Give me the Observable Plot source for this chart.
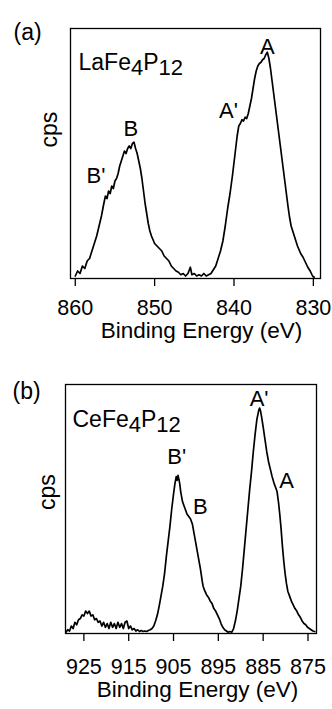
<!DOCTYPE html>
<html>
<head>
<meta charset="utf-8">
<script src="https://cdn.jsdelivr.net/npm/d3@7"></script>
<script src="https://cdn.jsdelivr.net/npm/@observablehq/plot@0.6"></script>
<style>
  html, body { margin: 0; padding: 0; background: #fff; }
  #chart svg { display: block; }
</style>
</head>
<body>
<div id="chart"></div>
<script>
// ---------- Panel (a): LaFe4P12, La 3d ----------
const panelLabelA = "(a)";
const compoundA = "LaFe4P12";
const energyA = [860.0,859.7,859.4,859.1,858.8,858.5,858.2,857.9,857.6,857.3,857.0,856.7,856.4,856.2,856.0,855.8,855.6,855.4,855.2,855.0,854.8,854.6,854.4,854.2,854.0,853.8,853.6,853.4,853.2,853.0,852.8,852.6,852.4,852.2,852.0,851.8,851.6,851.4,851.2,851.0,850.8,850.6,850.4,850.2,850.0,849.7,849.4,849.1,848.8,848.5,848.2,847.9,847.6,847.3,847.0,846.7,846.4,846.1,845.8,845.5,845.3,845.0,844.7,844.4,844.1,843.8,843.5,843.2,842.9,842.6,842.3,842.0,841.7,841.4,841.1,840.8,840.5,840.2,839.9,839.6,839.4,839.2,839.0,838.8,838.6,838.4,838.2,838.0,837.8,837.6,837.4,837.2,837.0,836.8,836.6,836.4,836.2,836.0,835.8,835.6,835.4,835.2,835.0,834.8,834.6,834.4,834.2,834.0,833.8,833.6,833.4,833.2,833.0,832.8,832.6,832.4,832.2,832.0,831.8,831.6,831.3,831.0,830.7,830.4,830.1,829.9];
const cpsA = [0.01,0.03,0.02,0.05,0.04,0.07,0.08,0.11,0.14,0.17,0.21,0.25,0.30,0.33,0.32,0.35,0.34,0.37,0.36,0.39,0.40,0.42,0.45,0.47,0.49,0.51,0.50,0.52,0.53,0.52,0.54,0.545,0.52,0.50,0.47,0.44,0.40,0.35,0.30,0.26,0.22,0.19,0.17,0.155,0.14,0.13,0.12,0.11,0.09,0.08,0.07,0.05,0.04,0.03,0.025,0.015,0.02,0.01,0.02,0.045,0.015,0.02,0.01,0.015,0.01,0.02,0.01,0.015,0.02,0.035,0.05,0.08,0.11,0.15,0.21,0.28,0.34,0.41,0.49,0.57,0.61,0.62,0.635,0.63,0.645,0.64,0.66,0.69,0.72,0.76,0.80,0.83,0.85,0.86,0.865,0.875,0.88,0.895,0.905,0.88,0.84,0.79,0.74,0.69,0.64,0.59,0.54,0.49,0.44,0.39,0.34,0.29,0.245,0.21,0.19,0.17,0.15,0.13,0.115,0.10,0.085,0.065,0.045,0.03,0.01,0.005];
const peakNamesA = ["A", "A'", "B", "B'"];
const peakEnergyA = [835.8, 840.7, 853.0, 857.4];
const peakCpsA = [0.926, 0.672, 0.60, 0.412];
const ticksA = [860, 850, 840, 830];
const domainA = [860.6, 829.1];

// ---------- Panel (b): CeFe4P12, Ce 3d ----------
const panelLabelB = "(b)";
const compoundB = "CeFe4P12";
const energyB = [929.0,928.6,928.2,927.8,927.4,927.0,926.6,926.2,925.8,925.4,925.0,924.6,924.2,923.8,923.4,923.0,922.6,922.2,921.8,921.4,921.0,920.6,920.2,919.8,919.4,919.0,918.6,918.2,917.8,917.4,917.0,916.6,916.2,915.8,915.4,915.0,914.6,914.2,913.8,913.4,913.0,912.6,912.2,911.8,911.4,911.0,910.6,910.2,909.8,909.4,909.0,908.6,908.2,907.8,907.4,907.0,906.6,906.2,905.8,905.4,905.0,904.7,904.4,904.2,904.0,903.8,903.6,903.4,903.2,903.0,902.8,902.6,902.4,902.2,902.0,901.8,901.6,901.4,901.2,901.0,900.8,900.6,900.4,900.2,900.0,899.8,899.6,899.4,899.2,899.0,898.8,898.6,898.4,898.2,898.0,897.6,897.2,896.8,896.4,896.0,895.6,895.2,894.8,894.4,894.0,893.6,893.2,892.8,892.4,892.0,891.6,891.2,890.8,890.4,890.0,889.6,889.2,888.8,888.4,888.0,887.6,887.2,886.8,886.4,886.0,885.8,885.6,885.4,885.0,884.6,884.2,883.8,883.4,883.0,882.6,882.2,881.9,881.6,881.3,881.0,880.7,880.4,880.1,879.8,879.5,879.1,878.7,878.3,877.9,877.5,877.1,876.7,876.3,875.9,875.5,875.1,874.7,874.3,873.9,873.5];
const cpsB = [0.005,0.015,0.01,0.03,0.02,0.045,0.035,0.055,0.06,0.075,0.07,0.09,0.08,0.09,0.07,0.075,0.055,0.06,0.045,0.05,0.03,0.045,0.025,0.04,0.02,0.045,0.025,0.04,0.02,0.045,0.025,0.04,0.02,0.045,0.05,0.02,0.03,0.015,0.02,0.01,0.015,0.008,0.012,0.008,0.01,0.008,0.012,0.015,0.02,0.03,0.05,0.075,0.11,0.15,0.19,0.24,0.31,0.37,0.43,0.50,0.56,0.60,0.63,0.615,0.635,0.62,0.60,0.57,0.55,0.53,0.52,0.51,0.50,0.49,0.48,0.475,0.47,0.465,0.46,0.45,0.44,0.42,0.40,0.38,0.36,0.34,0.32,0.30,0.28,0.26,0.235,0.21,0.19,0.18,0.17,0.155,0.145,0.13,0.12,0.10,0.09,0.075,0.06,0.04,0.025,0.015,0.01,0.005,0.008,0.005,0.02,0.05,0.09,0.14,0.19,0.26,0.34,0.42,0.50,0.58,0.65,0.73,0.80,0.86,0.895,0.905,0.895,0.875,0.83,0.78,0.73,0.69,0.66,0.63,0.605,0.585,0.57,0.53,0.48,0.42,0.35,0.29,0.24,0.20,0.17,0.15,0.13,0.115,0.10,0.09,0.075,0.065,0.05,0.04,0.035,0.025,0.02,0.015,0.01,0.008];
const peakNamesB = ["A'", "A", "B'", "B"];
const peakEnergyB = [885.9, 879.8, 904.3, 899.0];
const peakCpsB = [0.943, 0.614, 0.708, 0.507];
const ticksB = [925, 915, 905, 895, 885, 875];
const domainB = [929.1, 873.1];

const xLabel = "Binding Energy (eV)";
const yLabel = "cps";
const FONT = "'Liberation Sans', Arial, Helvetica, sans-serif";

function panel(cfg) {
  const data = cfg.energy.map((e, i) => ({e, c: cfg.cps[i]}));
  const peaks = cfg.peakNames.map((n, i) => ({n, e: cfg.peakE[i], c: cfg.peakC[i]}));
  const svg = Plot.plot({
    width: 332,
    height: cfg.height,
    marginTop: cfg.mt,
    marginBottom: cfg.mb,
    marginLeft: cfg.ml,
    marginRight: cfg.mr,
    style: {fontFamily: FONT, fontSize: "22px", color: "#000", background: "#fff", overflow: "visible"},
    x: {domain: cfg.domain},
    y: {domain: [0, 1], axis: null},
    marks: [
      Plot.frame({stroke: "#000", strokeWidth: 1.3}),
      Plot.axisX(cfg.ticks, {tickSize: 8, tickPadding: cfg.tp, fontSize: 21.5, label: null, stroke: "#000", strokeWidth: 1.3, tickFormat: d => String(d)}),
      Plot.line(data, {x: "e", y: "c", stroke: "#000", strokeWidth: 1.7}),
      Plot.text(peaks, {x: "e", y: "c", text: "n", fontSize: 22, fill: "#000"}),
      Plot.text([cfg.compound], {frameAnchor: "top-left", textAnchor: "start", dx: cfg.cdx, dy: cfg.cdy, fontSize: 23, fill: "#000"}),
      Plot.text([cfg.panelLabel], {frameAnchor: "top-left", textAnchor: "start", dx: cfg.pdx, dy: cfg.pdy, fontSize: 23, fill: "#000"}),
      Plot.text([yLabel], {frameAnchor: "left", rotate: -90, dx: cfg.ydx, dy: cfg.ydy, fontSize: 23, fill: "#000"}),
      Plot.text([xLabel], {frameAnchor: "bottom", dx: cfg.xdx, dy: cfg.xdy, fontSize: 22.5, fill: "#000"})
    ]
  });
  // render digits of the compound formula as subscripts
  d3.select(svg).selectAll("text").filter(function() { return this.textContent === cfg.compound; })
    .each(function() {
      const t = d3.select(this);
      t.text(null);
      const parts = cfg.compound.match(/\d+|\D+/g);
      let down = false;
      parts.forEach(p => {
        const isSub = /\d/.test(p);
        const ts = t.append("tspan").text(p);
        if (isSub && !down) { ts.attr("dy", 5).attr("font-size", 22); down = true; }
        else if (!isSub && down) { ts.attr("dy", -5); down = false; }
        else if (isSub) { ts.attr("font-size", 22); }
      });
    });
  return svg;
}

const chart = document.getElementById("chart");
chart.appendChild(panel({
  energy: energyA, cps: cpsA, peakNames: peakNamesA, peakE: peakEnergyA, peakC: peakCpsA,
  ticks: ticksA, domain: domainA, compound: compoundA, panelLabel: panelLabelA,
  height: 355, mt: 28, mb: 77, ml: 70, mr: 12, tp: 13,
  cdx: 8, cdy: 25, pdx: -57, pdy: -5, ydx: -21, ydy: -6, xdx: 6, xdy: 59
}));
chart.appendChild(panel({
  energy: energyB, cps: cpsB, peakNames: peakNamesB, peakE: peakEnergyB, peakC: peakCpsB,
  ticks: ticksB, domain: domainB, compound: compoundB, panelLabel: panelLabelB,
  height: 354, mt: 29, mb: 76, ml: 65, mr: 16, tp: 17,
  cdx: 7, cdy: 26, pdx: -53, pdy: -2, ydx: -18, ydy: 1, xdx: 6.5, xdy: 63
}));
</script>
</body>
</html>
